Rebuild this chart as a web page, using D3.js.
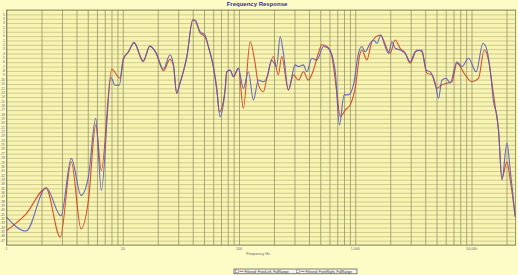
<!DOCTYPE html>
<html>
<head>
<meta charset="utf-8">
<script src="https://cdn.jsdelivr.net/npm/d3@7"></script>
<style>
  body { margin: 0; background: #fdfbc6; }
  svg { display: block; font-family: "Liberation Sans", Arial, sans-serif; }
</style>
</head>
<body>
<script>
// chart values
var title = "Frequency Response";
var xTitle = "Frequency Hz";
var xTickValues = [1, 10, 100, 1000, 10000];
var xTickLabels = ["1", "10", "100", "1.000", "10.000"];
var seriesNames = ["Filtered: FrontLeft, FullRange", "Filtered: FrontRight, FullRange"];

var leftFreq = [1.0, 1.47, 2.19, 2.9, 3.61, 4.38, 5.06, 5.86, 6.54, 8.04, 9.48, 10.1, 11.2, 12.5, 15.0, 17.1, 19.3, 22.4, 25.5, 27.3, 29.1, 31.1, 35.6, 40.0, 41.9, 46.3, 51.1, 54.5, 60.2, 64.4, 67.8, 75.9, 78.5, 83.8, 89.5, 98.9,
  109, 124.7, 137.5, 147, 162, 173.5, 197.7, 218, 233, 266, 294, 325, 358, 395, 437, 482, 516, 570, 629, 695, 742, 819, 904, 998,
  1101, 1141, 1259, 1390, 1638, 1995, 2205, 2434, 2690, 2967, 3390, 3741, 4130, 4561, 5036, 5565, 6142, 6780, 7488, 8830, 10070, 11490, 12870, 14000, 14990, 16000, 17070, 18270, 20180, 21540, 23780];
var leftDb = [-44.7, -40.9, -35.0, -46.2, -28.9, -44.3, -37.9, -20.4, -30.9, -7.6, -9.7, -5.5, -3.6, -1.5, -5.9, -2.3, -3.8, -8.0, -5.3, -6.8, -13.1, -10.8, -4.7, 3.7, 3.5, 0.7, -0.2, -2.4, -7.0, -12.0, -17.4, -12.4, -8.2, -7.8, -9.3, -7.4,
  -16.6, -1.3, -6.2, -11.2, -12.8, -9.7, -4.7, -8.9, -4.7, -12.4, -8.9, -10.1, -8.2, -10.1, -7.8, -3.95, -2.0, -2.4, -4.7, -13.1, -18.5, -17.0, -15.8, -12.0,
  -3.95, -3.2, -5.5, -1.3, 0.26, -3.95, -0.9, -2.8, -3.9, -6.2, -3.2, -3.6, -8.5, -8.9, -12.0, -11.2, -10.8, -10.5, -6.2, -8.9, -10.5, -9.7, -3.2, -5.5, -10.8, -16.2, -21.6, -32.7, -28.9, -33.1, -41.5];

var rightFreq = [1.0, 1.47, 2.19, 2.94, 3.61, 4.38, 5.06, 5.86, 6.54, 7.93, 8.58, 9.35, 10.1, 11.2, 12.5, 15.0, 17.1, 19.3, 22.4, 25.5, 27.3, 29.1, 31.1, 35.6, 40.0, 41.9, 46.3, 51.1, 54.5, 60.2, 64.4, 68.8, 75.9, 78.5, 83.8, 89.5, 98.9,
  109, 120.5, 133, 147, 162, 175, 191, 211, 226, 241, 266, 304, 325, 358, 383, 423, 467, 533, 588, 671, 731, 802, 873, 966,
  1066, 1141, 1217, 1343, 1435, 1535, 1661, 1807, 1931, 2065, 2205, 2434, 2690, 2967, 3277, 3741, 4075, 4413, 4875, 5205, 5565, 6057, 6556, 7488, 8265, 9418, 10970, 12530, 13570, 14490, 15480, 16560, 17070, 18270, 20180, 21540, 23780];
var rightDb = [-41.6, -44.8, -34.8, -41.3, -28.1, -36.6, -32.4, -18.9, -35.5, -9.5, -11.3, -11.3, -5.3, -3.6, -1.5, -5.65, -2.3, -3.8, -7.6, -4.3, -6.6, -13.1, -10.8, -4.7, 3.7, 3.7, 1.0, 0.26, -2.4, -7.0, -12.4, -18.5, -12.4, -8.2, -7.8, -9.3, -7.4,
  -12.0, -8.2, -14.7, -10.1, -10.5, -9.3, -5.5, -7.0, -0.1, -3.95, -12.4, -6.6, -7.0, -6.6, -8.2, -5.1, -5.5, -2.4, -2.8, -7.8, -20.4, -13.5, -13.5, -11.2,
  -3.95, -2.4, -3.6, -1.65, -0.9, -1.65, 0.26, -2.4, -3.95, -1.3, -2.8, -3.2, -3.95, -5.9, -3.6, -3.2, -7.8, -8.2, -10.8, -14.3, -10.1, -9.7, -10.8, -5.9, -7.0, -5.1, -8.2, -1.65, -3.2, -7.8, -15.1, -18.5, -21.6, -33.1, -24.6, -30.8, -41.5];

var w = 518, h = 275;
var plot = { left: 6.5, right: 515.7, top: 10, bottom: 245 };

var svg = d3.select("body").append("svg")
  .attr("width", w)
  .attr("height", h);

svg.append("rect")
  .attr("width", w).attr("height", h)
  .attr("fill", "#fdfbc6");

var x = d3.scaleLog().domain([1, 24000]).range([plot.left, plot.right]);
var y = d3.scaleLinear().domain([-48, 6]).range([plot.bottom, plot.top]);

// plot area
svg.append("rect")
  .attr("x", plot.left).attr("y", plot.top)
  .attr("width", plot.right - plot.left)
  .attr("height", plot.bottom - plot.top)
  .attr("fill", "#f8f4b2");

// horizontal grid, one per dB
var yGrid = d3.axisLeft(y).tickValues(d3.range(-48, 7, 1))
  .tickSize(-(plot.right - plot.left)).tickFormat("");
svg.append("g")
  .attr("transform", "translate(" + plot.left + ",0)")
  .call(yGrid)
  .call(function(g) {
    g.select(".domain").remove();
    g.selectAll("line").attr("stroke", "#b4b07a").attr("stroke-width", 0.6);
  });

// vertical grid 1..9 per decade
var xGridVals = [];
[1, 10, 100, 1000, 10000].forEach(function(d) {
  for (var i = 1; i <= 9; i++) if (d * i <= 24000) xGridVals.push(d * i);
});
var xGrid = d3.axisBottom(x).tickValues(xGridVals)
  .tickSize(-(plot.bottom - plot.top)).tickFormat("");
svg.append("g")
  .attr("transform", "translate(0," + plot.bottom + ")")
  .call(xGrid)
  .call(function(g) {
    g.select(".domain").remove();
    g.selectAll("line").attr("stroke", "#7c7a56").attr("stroke-width", 0.6);
  });

// plot border
svg.append("rect")
  .attr("x", plot.left).attr("y", plot.top)
  .attr("width", plot.right - plot.left)
  .attr("height", plot.bottom - plot.top)
  .attr("fill", "none")
  .attr("stroke", "#6f6d4c")
  .attr("stroke-width", 0.7);

// y labels
svg.append("g").selectAll("text")
  .data(d3.range(-47, 6, 1))
  .enter()
  .append("text")
  .attr("x", plot.left - 1.5)
  .attr("y", function(d) { return y(d) + 1.2; })
  .attr("text-anchor", "end")
  .attr("font-size", "3.4px")
  .attr("fill", "#666")
  .text(function(d) { return d; });

// x labels
svg.append("g").selectAll("text")
  .data(xTickValues)
  .enter()
  .append("text")
  .attr("x", function(d) { return x(d); })
  .attr("y", plot.bottom + 4.5)
  .attr("text-anchor", "middle")
  .attr("font-size", "3.6px")
  .attr("fill", "#666")
  .text(function(d, i) { return xTickLabels[i]; });

svg.append("text")
  .attr("x", 257).attr("y", 6.3)
  .attr("text-anchor", "middle")
  .attr("font-size", "6px")
  .attr("font-weight", "bold")
  .attr("fill", "#2e2e9a")
  .text(title);

svg.append("text")
  .attr("x", 258).attr("y", 254.5)
  .attr("text-anchor", "middle")
  .attr("font-size", "3.8px")
  .attr("fill", "#666")
  .text(xTitle);

var line = d3.line()
  .x(function(d) { return x(d[0]); })
  .y(function(d) { return y(d[1]); })
  .curve(d3.curveMonotoneX);

svg.append("clipPath").attr("id", "clip")
  .append("rect")
  .attr("x", plot.left).attr("y", plot.top)
  .attr("width", plot.right - plot.left)
  .attr("height", plot.bottom - plot.top);

var series = [
  { pts: d3.zip(leftFreq, leftDb), color: "#d2401f" },
  { pts: d3.zip(rightFreq, rightDb), color: "#5a5cc0" }
];

svg.append("g").attr("clip-path", "url(#clip)")
  .selectAll("path")
  .data(series)
  .enter()
  .append("path")
  .attr("d", function(d) { return line(d.pts); })
  .attr("fill", "none")
  .attr("stroke", function(d) { return d.color; })
  .attr("stroke-width", 1.1)
  .attr("stroke-opacity", 0.9);

// legend
var lg = svg.append("g").attr("transform", "translate(234,269)");
lg.append("rect")
  .attr("width", 123).attr("height", 4.8)
  .attr("fill", "#f4f4f4")
  .attr("stroke", "#333")
  .attr("stroke-width", 0.6);

var items = lg.selectAll("g.item")
  .data(seriesNames)
  .enter()
  .append("g")
  .attr("class", "item")
  .attr("transform", function(d, i) { return "translate(" + (1.5 + i * 61) + ",0)"; });

items.append("rect")
  .attr("x", 0).attr("y", 1)
  .attr("width", 2.8).attr("height", 2.8)
  .attr("fill", "#fff")
  .attr("stroke", "#555")
  .attr("stroke-width", 0.4);

items.append("line")
  .attr("x1", 4).attr("x2", 8)
  .attr("y1", 2.4).attr("y2", 2.4)
  .attr("stroke", function(d, i) { return series[i].color; })
  .attr("stroke-width", 0.8);

items.append("text")
  .attr("x", 9).attr("y", 3.6)
  .attr("font-size", "3.4px")
  .attr("fill", "#333")
  .text(function(d) { return d; });
</script>
</body>
</html>
